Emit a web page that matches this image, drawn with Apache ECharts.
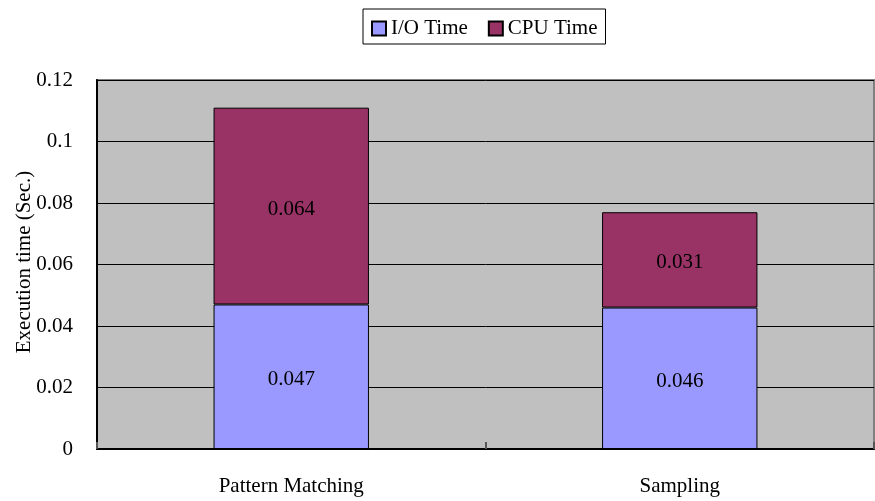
<!DOCTYPE html>
<html>
<head>
<meta charset="utf-8">
<script src="https://cdn.jsdelivr.net/npm/echarts@6/dist/echarts.min.js"></script>
<style>html,body{margin:0;padding:0;background:#fff;}#c{width:875px;height:501px;}</style>
</head>
<body>
<div id="c"></div>
<script>
const categories = ['Pattern Matching', 'Sampling'];
const ioTime = [0.047, 0.046];
const cpuTime = [0.064, 0.031];
const yTicks = [0, 0.02, 0.04, 0.06, 0.08, 0.1, 0.12];
const seriesNames = ['I/O Time', 'CPU Time'];

const FONT = '"Liberation Serif", "Times New Roman", serif';
const chart = echarts.init(document.getElementById('c'), null, {renderer: 'canvas'});
chart.setOption({
  animation: false,
  textStyle: {fontFamily: FONT},
  legend: {
    data: seriesNames,
    left: 363, top: 9,
    padding: [9, 8, 5, 8],
    borderColor: '#000', borderWidth: 1,
    itemWidth: 14, itemHeight: 14, itemGap: 20,
    icon: 'rect',
    textStyle: {fontFamily: FONT, fontSize: 21, color: '#000'}
  },
  grid: {
    left: 97, right: 1, top: 80, bottom: 52,
    outerBoundsMode: 'none', containLabel: false,
    show: true, backgroundColor: '#C0C0C0', borderColor: '#808080', borderWidth: 2
  },
  xAxis: {
    type: 'category', data: categories,
    axisLine: {lineStyle: {color: '#000', width: 2}},
    axisTick: {show: true, inside: true, length: 7, lineStyle: {color: '#555', width: 2}},
    axisLabel: {fontFamily: FONT, fontSize: 21, color: '#000', margin: 27}
  },
  yAxis: {
    type: 'value', min: 0, max: yTicks[yTicks.length - 1], interval: 0.02,
    name: 'Execution time (Sec.)', nameLocation: 'middle', nameGap: 62,
    nameMoveOverlap: false,
    nameTextStyle: {fontFamily: FONT, fontSize: 21, color: '#000', padding: [0, 0, 0, 5]},
    axisLine: {show: true, lineStyle: {color: '#000', width: 2}},
    axisTick: {show: false},
    splitLine: {lineStyle: {color: '#000', width: 1}},
    axisLabel: {fontFamily: FONT, fontSize: 21, color: '#000', margin: 24,
      formatter: v => yTicks.includes(+v.toFixed(2)) ? String(+v.toFixed(2)) : ''}
  },
  series: [
    {name: seriesNames[0], type: 'bar', stack: 't', data: ioTime, barWidth: '40%',
     itemStyle: {color: '#9999FF', borderColor: '#000', borderWidth: 1},
     label: {show: true, position: 'inside', offset: [0, 3], fontFamily: FONT, fontSize: 21, color: '#000'}},
    {name: seriesNames[1], type: 'bar', stack: 't', data: cpuTime, barWidth: '40%',
     itemStyle: {color: '#993366', borderColor: '#000', borderWidth: 1},
     label: {show: true, position: 'inside', offset: [0, 3], fontFamily: FONT, fontSize: 21, color: '#000'}}
  ]
});
</script>
</body>
</html>
